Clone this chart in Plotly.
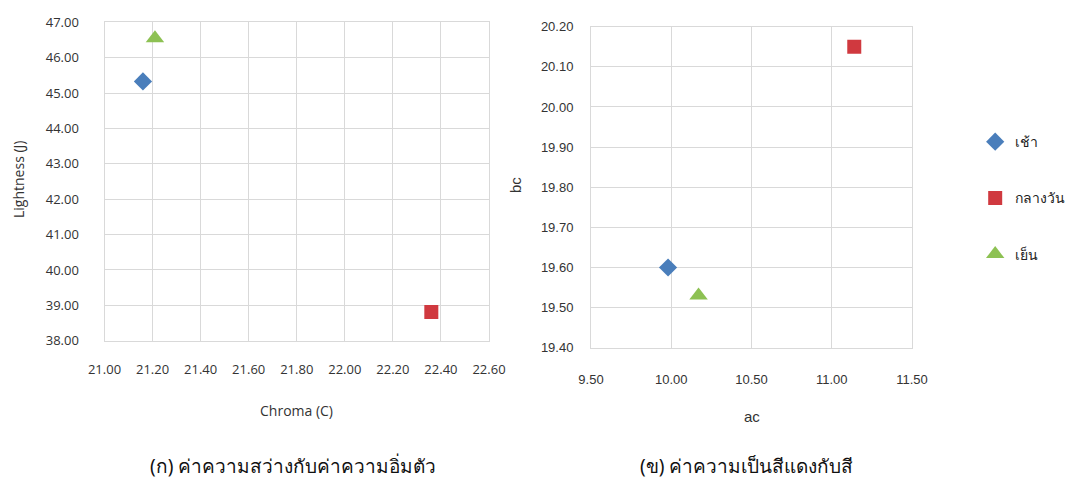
import plotly.graph_objects as go

# ---- data ----
series_names = ["เช้า", "กลางวัน", "เย็น"]
chroma_c = [21.16, 22.36, 21.21]
lightness_j = [45.33, 38.81, 46.55]
ac_vals = [9.98, 11.14, 10.17]
bc_vals = [19.60, 20.15, 19.53]

left_xticks = [21.0, 21.2, 21.4, 21.6, 21.8, 22.0, 22.2, 22.4, 22.6]
left_yticks = [38, 39, 40, 41, 42, 43, 44, 45, 46, 47]
right_xticks = [9.5, 10.0, 10.5, 11.0, 11.5]
right_yticks = [19.4, 19.5, 19.6, 19.7, 19.8, 19.9, 20.0, 20.1, 20.2]

caption_left = "(ก) ค่าความสว่างกับค่าความอิ่มตัว"
caption_right = "(ข) ค่าความเป็นสีแดงกับสี"

colors = ["#4a7ebb", "#d0393f", "#8dc153"]
symbols = ["diamond", "square", "triangle-up"]
sizes = [14, 14, 16]

fig = go.Figure()
for i, name in enumerate(series_names):
    fig.add_trace(go.Scatter(
        x=[chroma_c[i]], y=[lightness_j[i]], mode="markers", name=name,
        marker=dict(color=colors[i], symbol=symbols[i], size=sizes[i], line=dict(width=0)),
        xaxis="x", yaxis="y", showlegend=False))
for i, name in enumerate(series_names):
    fig.add_trace(go.Scatter(
        x=[ac_vals[i]], y=[bc_vals[i]], mode="markers", name=name,
        marker=dict(color=colors[i], symbol=symbols[i], size=sizes[i], line=dict(width=0)),
        xaxis="x2", yaxis="y2", legendgroup=name, showlegend=True))

grid = "#d9d9d9"
tickfont = dict(family="Open Sans, DejaVu Sans", size=13, color="#333333")
tickfont2 = dict(family="Liberation Sans, Arial", size=13, color="#333333")

common = dict(showgrid=True, gridcolor=grid, gridwidth=1, showline=True, linecolor=grid,
              linewidth=1, mirror=True, zeroline=False, ticks="outside",
              tickcolor="rgba(0,0,0,0)", automargin=False)

fig.update_layout(
    width=1074, height=485, margin=dict(l=0, r=0, t=0, b=0, autoexpand=False),
    paper_bgcolor="white", plot_bgcolor="white",
    xaxis=dict(domain=[0.0973, 0.4553], range=[21.0, 22.6], tickvals=left_xticks,
               ticktext=[f"{v:.2f}" for v in left_xticks], tickfont=tickfont, ticklen=17,
               anchor="y", **common),
    yaxis=dict(domain=[0.2975, 0.954], range=[38, 47], tickvals=left_yticks,
               ticktext=[f"{v:.2f}" for v in left_yticks], tickfont=tickfont, ticklen=22,
               anchor="x", **common),
    xaxis2=dict(domain=[0.5503, 0.8492], range=[9.5, 11.5], tickvals=right_xticks,
                ticktext=[f"{v:.2f}" for v in right_xticks], tickfont=tickfont2, ticklen=20,
                anchor="y2", **common),
    yaxis2=dict(domain=[0.283, 0.945], range=[19.4, 20.2], tickvals=right_yticks,
                ticktext=[f"{v:.2f}" for v in right_yticks], tickfont=tickfont2, ticklen=14,
                anchor="x2", **common),
    legend=dict(x=0.908, y=0.74, xanchor="left", yanchor="top", tracegroupgap=35,
                font=dict(family="Noto Sans, DejaVu Sans", size=14, color="#222222"),
                itemwidth=30, bgcolor="rgba(0,0,0,0)"),
    showlegend=True,
)

ann = []
ann.append(dict(text="Lightness (J)", x=18, y=180, textangle=-90,
                font=dict(family="Open Sans, DejaVu Sans", size=14, color="#333333")))
ann.append(dict(text="Chroma (C)", x=296, y=410,
                font=dict(family="Open Sans, DejaVu Sans", size=14, color="#333333")))
ann.append(dict(text="bc", x=515, y=185, textangle=-90,
                font=dict(family="Liberation Sans, Arial", size=15, color="#333333")))
ann.append(dict(text="ac", x=752, y=416,
                font=dict(family="Liberation Sans, Arial", size=15, color="#333333")))
ann.append(dict(text=caption_left, x=293, y=466,
                font=dict(family="Noto Sans, DejaVu Sans", size=19, color="#111111")))
ann.append(dict(text=caption_right, x=746, y=466,
                font=dict(family="Noto Sans, DejaVu Sans", size=19, color="#111111")))
for a in ann:
    a["showarrow"] = False
    a["xref"] = "paper"
    a["yref"] = "paper"
    a["x"] = a["x"] / 1074
    a["y"] = 1 - a["y"] / 485
    a["xanchor"] = "center"
    a["yanchor"] = "middle"
fig.update_layout(annotations=ann)

fig.write_html("out.html", config={"displayModeBar": False},
               post_script="document.body.style.margin='0';document.body.style.overflow='hidden';")
